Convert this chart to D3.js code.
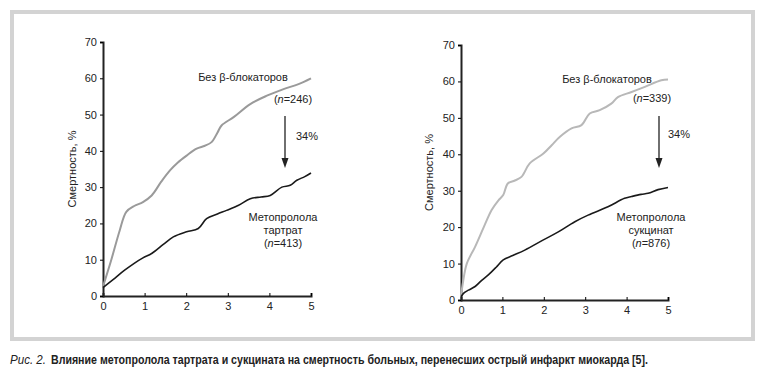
<!DOCTYPE html>
<html>
<head>
<meta charset="utf-8">
<script src="https://cdn.jsdelivr.net/npm/d3@7"></script>
<style>
  body { margin: 0; background: #fff; }
  svg text { font-family: "Liberation Sans", Arial, sans-serif; fill: #222; }
</style>
</head>
<body>
<svg width="761" height="388"></svg>
<script>
// years of follow-up and mortality (%)
var yTicks = [0, 10, 20, 30, 40, 50, 60, 70];
var xTicks = [0, 1, 2, 3, 4, 5];

var tartNoBetaX = [0, 0.2, 0.4, 0.56, 0.75, 0.96, 1.17, 1.4, 1.61, 1.8, 2.01, 2.25, 2.45, 2.61, 2.75, 2.85, 3.14, 3.54, 3.94, 4.34, 4.7, 5];
var tartNoBetaY = [2.6, 10, 18, 23.2, 24.8, 25.9, 27.7, 31.5, 34.6, 36.8, 38.7, 40.6, 41.4, 42.4, 45, 47, 49.3, 52.9, 55.2, 57.0, 58.4, 60];
var tartDrugX = [0, 0.25, 0.52, 0.75, 0.96, 1.17, 1.45, 1.69, 2.01, 2.29, 2.49, 2.75, 2.97, 3.26, 3.54, 3.8, 4.02, 4.3, 4.5, 4.66, 4.85, 5];
var tartDrugY = [2.3, 4.6, 7.1, 9.0, 10.5, 11.7, 14.2, 16.3, 17.7, 18.6, 21.3, 22.6, 23.6, 25, 26.8, 27.3, 27.7, 30, 30.5, 31.9, 32.9, 33.9];

var succNoBetaX = [0, 0.05, 0.14, 0.34, 0.55, 0.74, 0.9, 1.02, 1.13, 1.3, 1.46, 1.66, 1.99, 2.19, 2.39, 2.67, 2.91, 3.11, 3.35, 3.63, 3.79, 4.12, 4.44, 4.84, 5];
var succNoBetaY = [0.9, 5, 10, 14.6, 20, 24.7, 27.3, 28.8, 32, 32.8, 33.8, 37.5, 40.2, 42.5, 44.8, 47.1, 48, 51.2, 52.1, 53.9, 55.7, 57.1, 58.5, 60.3, 60.5];
var succDrugX = [0, 0.08, 0.18, 0.34, 0.5, 0.66, 0.85, 1.02, 1.25, 1.54, 1.99, 2.35, 2.75, 3.07, 3.55, 3.95, 4.12, 4.35, 4.52, 4.76, 5];
var succDrugY = [0.9, 2.0, 2.7, 3.7, 5.4, 6.9, 9.0, 11, 12.2, 13.7, 16.5, 18.7, 21.5, 23.3, 25.6, 27.9, 28.4, 29.0, 29.3, 30.3, 30.9];

var panels = [
  { left: 103, right: 311, top: 42, bottom: 296, labelX: 76, grey: "#9a9a9a",
    noBetaX: tartNoBetaX, noBetaY: tartNoBetaY, drugX: tartDrugX, drugY: tartDrugY,
    title1: [243, 81], n1: "246", n1pos: [293, 103], pct: [296, 140], arrow: [285, 116, 168],
    drug: "тартрат", drugPos: [283, 221], n2: "413" },
  { left: 461, right: 668, top: 45, bottom: 300, labelX: 433, grey: "#b8b8b8",
    noBetaX: succNoBetaX, noBetaY: succNoBetaY, drugX: succDrugX, drugY: succDrugY,
    title1: [607, 83], n1: "339", n1pos: [652, 102], pct: [668, 138], arrow: [659, 116, 168],
    drug: "сукцинат", drugPos: [651, 221], n2: "876" }
];

var svg = d3.select("svg");

// grey frame around both plots
svg.append("rect").attr("x", 12).attr("y", 12).attr("width", 741).attr("height", 327)
  .attr("fill", "none").attr("stroke", "#d3d3d3").attr("stroke-width", 4);

function drawPanel(p) {
  var x = d3.scaleLinear().domain([0, 5]).range([p.left, p.right]);
  var y = d3.scaleLinear().domain([0, 70]).range([p.bottom, p.top]);
  var g = svg.append("g");

  g.append("g").attr("transform", "translate(0," + p.bottom + ")")
    .call(d3.axisBottom(x).tickValues(xTicks).tickSize(-3).tickPadding(6).tickFormat(d3.format("d")))
    .call(function(a){
      a.select(".domain").attr("stroke", "#222").attr("stroke-width", 2);
      a.selectAll("text").attr("font-size", "11px").attr("fill", "#222");
    });
  g.append("g").attr("transform", "translate(" + p.left + ",0)")
    .call(d3.axisLeft(y).tickValues(yTicks).tickSize(3).tickPadding(3))
    .call(function(a){
      a.select(".domain").attr("stroke", "#222").attr("stroke-width", 2);
      a.selectAll("text").attr("font-size", "11px").attr("fill", "#222");
    });

  g.append("text").attr("transform", "translate(" + p.labelX + "," + ((p.top + p.bottom) / 2) + ") rotate(-90)")
    .attr("text-anchor", "middle").attr("font-size", "11px").text("Смертность, %");

  var line = d3.line().x(function(d){ return x(d[0]); }).y(function(d){ return y(d[1]); })
    .curve(d3.curveCatmullRom);
  g.append("path").datum(d3.zip(p.noBetaX, p.noBetaY)).attr("d", line)
    .attr("fill", "none").attr("stroke", p.grey).attr("stroke-width", 2);
  g.append("path").datum(d3.zip(p.drugX, p.drugY)).attr("d", line)
    .attr("fill", "none").attr("stroke", "#1a1a1a").attr("stroke-width", 1.6);

  // labels
  g.append("text").attr("x", p.title1[0]).attr("y", p.title1[1])
    .attr("text-anchor", "middle").attr("font-size", "11px").text("Без β‑блокаторов");
  var n1 = g.append("text").attr("x", p.n1pos[0]).attr("y", p.n1pos[1])
    .attr("text-anchor", "middle").attr("font-size", "11px");
  n1.append("tspan").text("(");
  n1.append("tspan").attr("font-style", "italic").text("n");
  n1.append("tspan").text("=" + p.n1 + ")");

  g.append("text").attr("x", p.pct[0]).attr("y", p.pct[1]).attr("font-size", "11px").text("34%");

  g.append("line").attr("x1", p.arrow[0]).attr("x2", p.arrow[0])
    .attr("y1", p.arrow[1]).attr("y2", p.arrow[2] - 8).attr("stroke", "#222").attr("stroke-width", 1.3);
  g.append("path").attr("d", "M" + (p.arrow[0] - 3.5) + "," + (p.arrow[2] - 10) + " L" + (p.arrow[0] + 3.5) + "," + (p.arrow[2] - 10) + " L" + p.arrow[0] + "," + p.arrow[2] + " Z")
    .attr("fill", "#222");

  var d = g.append("text").attr("text-anchor", "middle").attr("font-size", "11px");
  d.append("tspan").attr("x", p.drugPos[0]).attr("y", p.drugPos[1]).text("Метопролола");
  d.append("tspan").attr("x", p.drugPos[0]).attr("y", p.drugPos[1] + 13).text(p.drug);
  var n2 = g.append("text").attr("x", p.drugPos[0]).attr("y", p.drugPos[1] + 26)
    .attr("text-anchor", "middle").attr("font-size", "11px");
  n2.append("tspan").text("(");
  n2.append("tspan").attr("font-style", "italic").text("n");
  n2.append("tspan").text("=" + p.n2 + ")");
}

panels.forEach(drawPanel);

// caption under the frame
svg.append("text").attr("x", 10).attr("y", 364).attr("font-size", "12px")
  .style("font-family", "'Liberation Sans Narrow', 'Liberation Sans', sans-serif")
  .attr("font-style", "italic").attr("textLength", 36).attr("lengthAdjust", "spacingAndGlyphs")
  .text("Рис. 2.");
svg.append("text").attr("x", 51).attr("y", 364).attr("font-size", "12px")
  .style("font-family", "'Liberation Sans Narrow', 'Liberation Sans', sans-serif")
  .attr("font-weight", "bold").attr("textLength", 597).attr("lengthAdjust", "spacingAndGlyphs")
  .text("Влияние метопролола тартрата и сукцината на смертность больных, перенесших острый инфаркт миокарда [5].");
</script>
</body>
</html>
